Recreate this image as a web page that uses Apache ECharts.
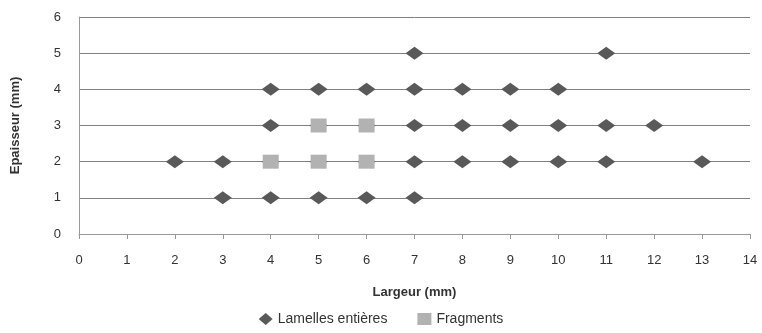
<!DOCTYPE html>
<html lang="fr">
<head>
<meta charset="utf-8">
<title>Largeur / Epaisseur</title>
<script src="https://cdn.jsdelivr.net/npm/echarts@6/dist/echarts.min.js"></script>
</head>
<body style="margin:0;background:#fff">
<div id="main" style="width:762px;height:333px;"></div>
<script>
// Lamelles entières : [largeur, épaisseur]
var lamelles = [
    [3, 1], [4, 1], [5, 1], [6, 1], [7, 1],
    [2, 2], [3, 2], [4, 2], [5, 2], [6, 2], [7, 2], [8, 2], [9, 2], [10, 2], [11, 2], [13, 2],
    [4, 3], [5, 3], [6, 3], [7, 3], [8, 3], [9, 3], [10, 3], [11, 3], [12, 3],
    [4, 4], [5, 4], [6, 4], [7, 4], [8, 4], [9, 4], [10, 4],
    [7, 5], [11, 5]
];
var fragments = [[4, 2], [5, 2], [6, 2], [5, 3], [6, 3]];

var chart = echarts.init(document.getElementById('main'));
var txt = {color: '#333', fontFamily: 'Liberation Sans', fontSize: 13};

chart.setOption({
    animation: false,
    grid: {left: 79, right: 12, top: 17, bottom: 99},
    legend: {
        bottom: 2,
        left: 'center',
        itemGap: 30,
        itemWidth: 14,
        itemHeight: 12,
        textStyle: {color: '#333', fontFamily: 'Liberation Sans', fontSize: 14},
        data: [
            {name: 'Lamelles entières', icon: 'diamond'},
            {name: 'Fragments', icon: 'rect'}
        ]
    },
    xAxis: {
        type: 'value', min: 0, max: 14, interval: 1,
        name: 'Largeur (mm)', nameLocation: 'middle', nameGap: 52,
        nameTextStyle: {color: '#333', fontFamily: 'Liberation Sans', fontSize: 13, fontWeight: 'bold'},
        axisLine: {lineStyle: {color: '#999'}},
        axisTick: {show: true, length: 5, lineStyle: {color: '#999'}},
        axisLabel: Object.assign({margin: 20}, txt),
        splitLine: {show: false}
    },
    yAxis: {
        type: 'value', min: 0, max: 6, interval: 1,
        name: 'Epaisseur (mm)', nameLocation: 'middle', nameGap: 57, nameRotate: 90,
        nameTextStyle: {color: '#333', fontFamily: 'Liberation Sans', fontSize: 13, fontWeight: 'bold'},
        axisLine: {show: true, lineStyle: {color: '#999'}},
        axisTick: {show: false},
        axisLabel: Object.assign({margin: 18}, txt),
        splitLine: {lineStyle: {color: '#808080'}}
    },
    series: [{
        name: 'Lamelles entières',
        type: 'scatter',
        symbol: 'diamond',
        symbolSize: [18, 13],
        itemStyle: {color: '#595959', opacity: 1},
        data: lamelles
    }, {
        name: 'Fragments',
        type: 'scatter',
        symbol: 'rect',
        symbolSize: [16, 14],
        itemStyle: {color: '#b2b2b2', opacity: 1},
        data: fragments
    }]
});
</script>
</body>
</html>
